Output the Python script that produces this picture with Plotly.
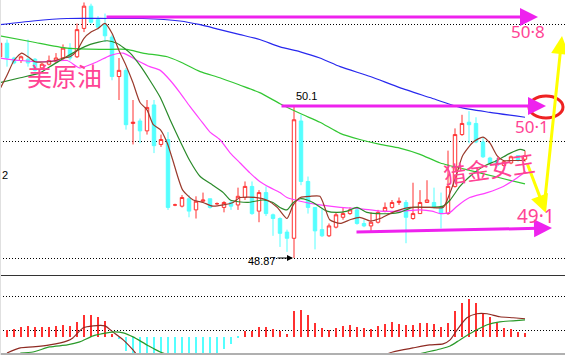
import plotly.graph_objects as go

W, H = 565, 355

# ---------------- data ----------------
days = list(range(76))
opens = [50.50, 50.61, 50.49, 50.47, 50.48, 50.48, 50.41, 50.44, 50.46, 50.49,
         50.57, 50.50, 50.73, 50.91, 50.80, 50.76, 50.66, 50.34, 50.39, 49.96,
         49.98, 49.90, 50.11, 49.79, 49.83, 49.30, 49.29, 49.35, 49.26, 49.33,
         49.35, 49.31, 49.28, 49.32, 49.30, 49.36, 49.45, 49.25, 49.40, 49.22,
         49.19, 49.08, 49.03, 49.98, 49.49, 49.28, 49.10, 49.05, 49.12, 49.20,
         49.23, 49.26, 49.15, 49.13, 49.16, 49.25, 49.28, 49.32, 49.32, 49.19,
         49.23, 49.32, 49.32, 49.28, 49.23, 49.45, 49.87, 49.97, 49.96, 49.81,
         49.68, 49.66, 49.62, 49.64, 49.70, 49.67]
highs = [50.63, 50.64, 50.50, 50.51, 50.64, 50.49, 50.45, 50.51, 50.53, 50.60,
         50.61, 50.77, 50.94, 50.93, 50.83, 50.85, 50.68, 50.49, 50.41, 50.15,
         50.00, 50.15, 50.15, 49.87, 49.89, 49.31, 49.38, 49.38, 49.37, 49.40,
         49.35, 49.32, 49.33, 49.34, 49.44, 49.49, 49.49, 49.42, 49.45, 49.23,
         49.20, 49.10, 50.10, 50.03, 49.53, 49.28, 49.27, 49.15, 49.24, 49.28,
         49.28, 49.28, 49.18, 49.24, 49.26, 49.32, 49.34, 49.36, 49.34, 49.48,
         49.42, 49.50, 49.44, 49.40, 49.74, 49.92, 50.03, 50.06, 50.01, 49.85,
         49.69, 49.68, 49.66, 49.70, 49.70, 49.74]
lows = [50.49, 50.42, 50.44, 50.45, 50.42, 50.38, 50.40, 50.43, 50.45, 50.47,
        50.47, 50.49, 50.70, 50.77, 50.72, 50.62, 50.31, 50.15, 49.91, 49.79,
        49.80, 49.87, 49.72, 49.77, 49.26, 49.29, 49.28, 49.20, 49.19, 49.32,
        49.27, 49.30, 49.24, 49.26, 49.26, 49.34, 49.22, 49.16, 49.21, 49.05,
        48.96, 48.92, 48.87, 49.46, 49.23, 48.94, 49.04, 49.04, 49.11, 49.18,
        49.22, 49.14, 49.12, 49.08, 49.15, 49.24, 49.27, 49.30, 48.99, 49.18,
        49.23, 49.32, 49.27, 49.11, 49.22, 49.44, 49.86, 49.80, 49.80, 49.68,
        49.62, 49.61, 49.61, 49.63, 49.65, 49.65]
closes = [50.61, 50.49, 50.45, 50.50, 50.45, 50.39, 50.44, 50.47, 50.49, 50.57,
          50.49, 50.72, 50.91, 50.78, 50.74, 50.67, 50.34, 50.39, 49.95, 49.97,
          49.90, 50.09, 49.78, 49.83, 49.28, 49.30, 49.36, 49.25, 49.33, 49.34,
          49.28, 49.31, 49.32, 49.29, 49.37, 49.45, 49.23, 49.40, 49.23, 49.19,
          49.07, 49.03, 49.99, 49.49, 49.28, 49.09, 49.05, 49.13, 49.22, 49.23,
          49.26, 49.15, 49.13, 49.16, 49.24, 49.28, 49.32, 49.33, 49.20, 49.23,
          49.32, 49.34, 49.28, 49.23, 49.45, 49.87, 49.96, 49.95, 49.81, 49.69,
          49.64, 49.62, 49.65, 49.69, 49.66, 49.70]

# moving average curves: position in days, price
ma5_x = [0.1, 1, 2, 3.1, 4, 5, 7, 8, 9, 10, 11, 12, 13, 14, 15, 16, 17, 18, 19, 20, 21,
         21.9, 22.9, 23.9, 24.7, 26.1, 27.6, 29, 30.4, 31.9, 33.3, 34.3, 36.7, 38.1,
         39.6, 41, 41.9, 42.9, 44.3, 45.7, 46.4, 47.1, 48.6, 50, 51.4, 52.9, 54.3,
         55.7, 57.1, 58.6, 61.4, 63.3, 64.3, 65.3, 66.1, 67.6, 69, 70, 71, 71.9, 73.3, 75]
ma5_y = [50.25, 50.35, 50.47, 50.53, 50.50, 50.46, 50.46, 50.47, 50.49, 50.50, 50.55,
         50.65, 50.70, 50.73, 50.77, 50.69, 50.55, 50.43, 50.29, 50.13, 50.07, 49.95,
         49.91, 49.80, 49.66, 49.42, 49.34, 49.32, 49.29, 49.30, 49.32, 49.36, 49.36,
         49.34, 49.28, 49.19, 49.30, 49.36, 49.37, 49.37, 49.28, 49.18, 49.15, 49.18,
         49.20, 49.17, 49.19, 49.23, 49.26, 49.28, 49.28, 49.28, 49.40, 49.56, 49.70,
         49.81, 49.85, 49.80, 49.70, 49.66, 49.66, 49.66]
ma10_x = [0, 2.9, 5.7, 7.1, 8.6, 11, 12.9, 15.3, 16.7, 18.6, 20, 21.4, 22.9, 24.3, 25.7,
          27.1, 28.6, 30.4, 31.9, 32.9, 35.3, 37.6, 39, 40, 41, 41.9, 42.9, 43.9, 44.7,
          46.7, 48.1, 49.6, 51, 52.4, 53.9, 55.7, 57.1, 59, 61.4, 63.3, 64.3, 65.7,
          67.1, 69, 71, 72.9, 74.3, 75]
ma10_y = [50.29, 50.33, 50.37, 50.42, 50.47, 50.55, 50.60, 50.63, 50.61, 50.53, 50.43,
          50.31, 50.17, 49.99, 49.82, 49.66, 49.53, 49.46, 49.40, 49.34, 49.32, 49.34,
          49.32, 49.28, 49.26, 49.32, 49.35, 49.34, 49.32, 49.25, 49.24, 49.25, 49.28,
          49.24, 49.23, 49.23, 49.24, 49.28, 49.28, 49.29, 49.34, 49.45, 49.53, 49.61,
          49.66, 49.72, 49.75, 49.74]
ma20_x = [0, 2.9, 6.1, 9.6, 11.4, 13.9, 15.7, 17.6, 19.6, 21.4, 22.9, 24.3, 25.7, 27.1,
          28.6, 30, 31.4, 32.9, 34.3, 35.7, 37.1, 38.6, 40, 41, 42.9, 45.7, 48.6, 51.4,
          54.3, 57.1, 60, 61.7, 62.9, 64.3, 65.3, 67.1, 69.6, 71.9, 73.9, 75.1]
ma20_y = [50.49, 50.47, 50.46, 50.47, 50.41, 50.46, 50.51, 50.53, 50.47, 50.42, 50.39,
          50.31, 50.21, 50.10, 49.99, 49.89, 49.83, 49.72, 49.64, 49.56, 49.49, 49.44,
          49.40, 49.36, 49.33, 49.30, 49.28, 49.27, 49.25, 49.25, 49.26, 49.25, 49.23,
          49.24, 49.29, 49.36, 49.40, 49.45, 49.52, 49.57]
ma60_x = [0, 4.7, 9.6, 14.3, 18.1, 20.4, 23.9, 25.7, 28.6, 31.4, 34.3, 37.1, 40, 42.9,
          45.7, 48.6, 51.4, 54.3, 57.1, 60, 62.9, 67.1, 71.4, 75]
ma60_y = [50.67, 50.62, 50.57, 50.56, 50.56, 50.53, 50.50, 50.46, 50.38, 50.33, 50.27,
          50.21, 50.12, 50.04, 49.97, 49.88, 49.83, 49.79, 49.76, 49.71, 49.64, 49.58,
          49.52, 49.47]
ma120_x = [0, 4.7, 9.6, 15.7, 20.4, 25.7, 28.6, 31.4, 34.3, 37.1, 40, 42.9, 45.7, 48.6,
           52.9, 57.1, 61.4, 65.7, 70, 75]
ma120_y = [50.76, 50.79, 50.81, 50.81, 50.81, 50.79, 50.76, 50.72, 50.68, 50.64, 50.58,
           50.54, 50.49, 50.42, 50.34, 50.25, 50.17, 50.09, 50.05, 50.01]

# MACD panel
macd_hist = [0.006, 0.0073, 0.0083, 0.010, 0.0107, 0.010, 0.010, 0.010, 0.0107, 0.0117,
             0.0107, 0.015, 0.0217, 0.0217, 0.020, 0.0157, 0.003, -0.002, -0.014, -0.022,
             -0.026, -0.029, -0.031, -0.033, -0.034, -0.034, -0.033, -0.031, -0.026, -0.023,
             -0.020, -0.018, -0.012, -0.007, -0.001, 0.006, 0.0057, 0.010, 0.010, 0.0083,
             0.006, 0.0027, 0.026, 0.0267, 0.0217, 0.014, 0.009, 0.0067, 0.009, 0.0107,
             0.0117, 0.010, 0.009, 0.0083, 0.0107, 0.0127, 0.015, 0.0127, 0.0123, 0.0117,
             0.014, 0.014, 0.0133, 0.010, 0.014, 0.026, 0.034, 0.0373, 0.034, 0.0233,
             0.0193, 0.014, 0.0093, 0.008, 0.005, 0.004]
dif_x = [1, 2.9, 4.7, 7.1, 9.6, 10.4, 11.9, 13.3, 15, 16.1, 17.6, 19, 19.6, 25, 40, 50,
         56.1, 59, 61.4, 63.3, 64.3, 65.3, 66.7, 68.1, 69.6, 71.4, 73.3, 75]
dif_y = [-0.016, -0.011, -0.010, -0.008, -0.004, -0.001, 0.009, 0.011, 0.011, 0.005,
         -0.003, -0.013, -0.018, -0.040, -0.045, -0.030, -0.015, -0.011, -0.008, -0.007,
         -0.003, 0.007, 0.019, 0.023, 0.023, 0.020, 0.019, 0.018]
dea_x = [2.9, 4.7, 7.1, 9.6, 11.4, 13.3, 15.3, 16.4, 17.6, 19, 21, 22.9, 30, 45, 55,
         60.4, 62.9, 64.3, 65.7, 67.6, 69.6, 71.4, 73.3, 75]
dea_y = [-0.016, -0.015, -0.010, -0.008, -0.005, 0.001, 0.004, 0.005, 0.004, 0.0,
         -0.008, -0.015, -0.030, -0.035, -0.025, -0.016, -0.012, -0.009, -0.003, 0.005,
         0.012, 0.015, 0.016, 0.017]

main_grid = [48.87, 49.81, 50.76]
macd_grid = [0.006, 0.040]

# ---------------- figure ----------------
RED = "#ff3030"
CYAN = "#55ffff"
PINK = "#ff4394"
MAG = "#ee22ee"

fig = go.Figure()
fig.add_trace(go.Candlestick(
    x=days, open=opens, high=highs, low=lows, close=closes,
    increasing=dict(line=dict(color=RED, width=1), fillcolor="white"),
    decreasing=dict(line=dict(color=CYAN, width=1), fillcolor=CYAN),
    whiskerwidth=0, xaxis="x", yaxis="y", showlegend=False, hoverinfo="skip"))

for xs, ys, col in [(ma120_x, ma120_y, "#2828ee"), (ma60_x, ma60_y, "#33c733"),
                    (ma20_x, ma20_y, "#ff40ff"), (ma10_x, ma10_y, "#2a8a2a"),
                    (ma5_x, ma5_y, "#9a3a2c")]:
    fig.add_trace(go.Scatter(x=xs, y=ys, mode="lines", line=dict(color=col, width=1.2, shape="spline", smoothing=0.6),
                             xaxis="x", yaxis="y", showlegend=False, hoverinfo="skip"))

fig.add_trace(go.Bar(x=days, y=macd_hist, width=0.16,
                     marker=dict(color=[RED if v >= 0 else CYAN for v in macd_hist], line=dict(width=0)),
                     xaxis="x2", yaxis="y2", showlegend=False, hoverinfo="skip"))
fig.add_trace(go.Scatter(x=dif_x, y=dif_y, mode="lines", line=dict(color="#8e2a22", width=1.2, shape="spline", smoothing=0.6),
                         xaxis="x2", yaxis="y2", showlegend=False, hoverinfo="skip"))
fig.add_trace(go.Scatter(x=dea_x, y=dea_y, mode="lines", line=dict(color="#2a9a2a", width=1.2, shape="spline", smoothing=0.6),
                         xaxis="x2", yaxis="y2", showlegend=False, hoverinfo="skip"))

xr = [0, W / 7.0]
main_bottom = 1 - 275.5 / H
fig.update_layout(
    width=W, height=H, margin=dict(l=0, r=0, t=0, b=0, pad=0),
    paper_bgcolor="white", plot_bgcolor="white", showlegend=False,
    bargap=0,
    xaxis=dict(range=xr, domain=[0, 1], anchor="y", showgrid=False, showticklabels=False,
               zeroline=False, rangeslider=dict(visible=False), fixedrange=True),
    yaxis=dict(range=[50.96 - 0.0081 * 275.5, 50.96], domain=[main_bottom, 1],
               tickvals=main_grid, showticklabels=False, showgrid=True, gridcolor="black",
               griddash="1px,2px", gridwidth=1, zeroline=False),
    xaxis2=dict(range=xr, domain=[0, 1], anchor="y2", showgrid=False, showticklabels=False,
                zeroline=False),
    yaxis2=dict(range=[-0.018, 0.0605], domain=[0, 1 - 276 / H], tickvals=macd_grid,
                showticklabels=False, showgrid=True, gridcolor="black", griddash="1px,2px",
                gridwidth=1, zeroline=False),
)

def px(x):
    return x / W

def py(y):
    return 1 - y / H

shapes = [
    dict(type="line", xref="paper", yref="paper", x0=0, x1=1, y0=py(275.5), y1=py(275.5),
         line=dict(color="#333333", width=1)),
    dict(type="line", xref="paper", yref="paper", x0=0, x1=1, y0=py(354), y1=py(354),
         line=dict(color="#b0b0b0", width=2)),
    dict(type="line", xref="paper", yref="paper", x0=px(0.5), x1=px(0.5), y0=0, y1=1,
         line=dict(color="#e0e0e0", width=1)),
    dict(type="circle", xref="paper", yref="paper", x0=px(529), x1=px(563), y0=py(118), y1=py(96),
         line=dict(color="#ee2222", width=3)),
]
fig.update_layout(shapes=shapes)

ann = []
def arrow(tx, ty, hx, hy, color, width, size):
    ann.append(dict(xref="paper", yref="paper", x=px(hx), y=py(hy), ax=tx - hx, ay=ty - hy,
                    axref="pixel", ayref="pixel", text="", showarrow=True, arrowhead=2,
                    arrowsize=size, arrowwidth=width, arrowcolor=color, standoff=0, startstandoff=0))

arrow(105, 17, 538, 17, MAG, 3, 1.2)
arrow(280, 106, 546, 106, MAG, 3, 1.2)
arrow(355, 232, 552, 228, MAG, 3, 1.2)
arrow(544, 208, 562, 36, "#ffff00", 3, 1.2)
arrow(527, 163, 546, 213, "#ffff00", 3, 1.2)
arrow(276, 258, 293, 258, "black", 1, 1.2)

def text(s, x, y, size, color, family, angle=0):
    ann.append(dict(xref="paper", yref="paper", x=px(x), y=py(y), text=s, showarrow=False,
                    font=dict(size=size, color=color, family=family), textangle=angle,
                    xanchor="center", yanchor="middle"))

text("50.1", 306, 96, 11, "black", "Liberation Sans")
text("48.87", 262, 261, 11, "black", "Liberation Sans")
text("2", 5, 175, 11, "black", "Liberation Sans")
text("美原油", 64, 75, 25, PINK, "Noto Sans CJK SC")
text("50·8", 528, 32, 17, PINK, "Noto Sans")
text("50·1", 532, 127, 17, PINK, "Noto Sans")
text("猎金女王", 489, 168, 23, PINK, "Noto Sans CJK SC", -8)
text("49·1", 536, 216, 19, PINK, "Noto Sans")
fig.update_layout(annotations=ann)

fig.write_html("out.html")
